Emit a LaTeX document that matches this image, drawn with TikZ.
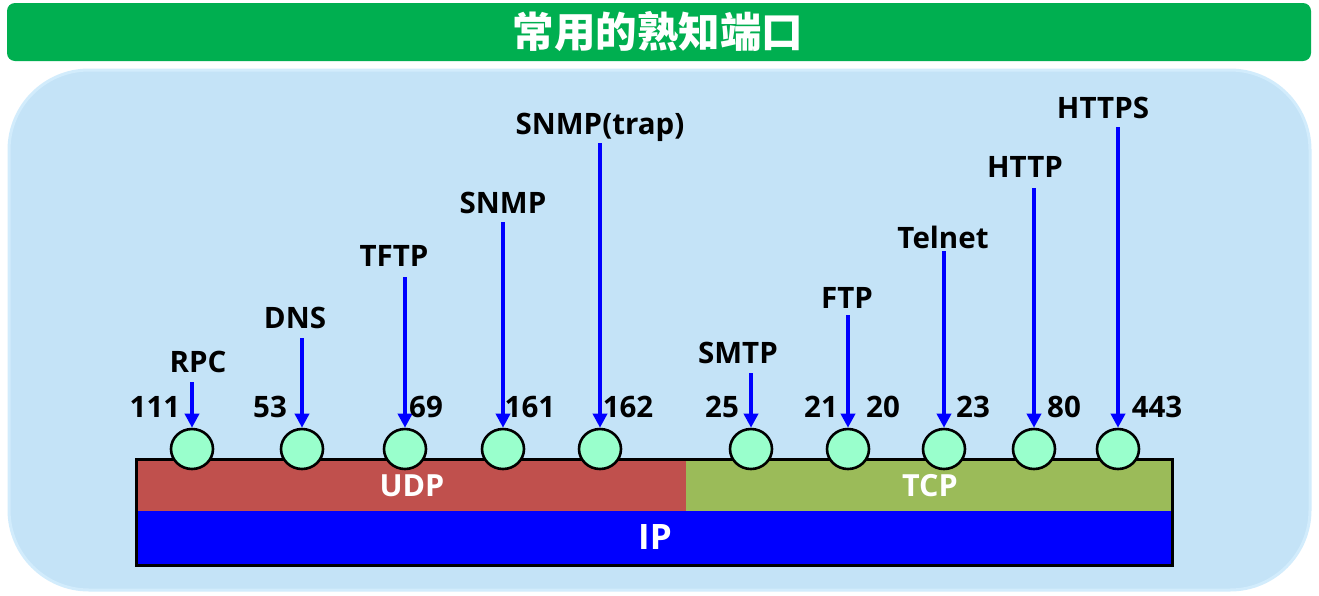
\documentclass[tikz,border=0pt]{standalone}
\usepackage{fontspec}
\setmainfont{Open Sans}
\newfontfamily\cjk{Noto Sans CJK SC}
\usetikzlibrary{arrows.meta}
\definecolor{titlegreen}{HTML}{00AF50}
\definecolor{panelblue}{HTML}{C4E3F7}
\definecolor{paneledge}{HTML}{D2ECFC}
\definecolor{udpred}{HTML}{C0504D}
\definecolor{tcpgreen}{HTML}{9BBB59}
\definecolor{ipblue}{HTML}{0000FF}
\definecolor{portmint}{HTML}{99FFCC}
\tikzset{
  lbl/.style={font=\fontsize{29.5}{32}\selectfont\bfseries, text=black, inner sep=0pt, anchor=base},
  num/.style={font=\fontsize{29.5}{32}\selectfont\bfseries, text=black, inner sep=0pt, anchor=base},
  port/.style={ellipse, draw=black, line width=2.6pt, fill=portmint, minimum width=42pt, minimum height=40pt, inner sep=0pt},
  parr/.style={draw=ipblue, line width=4pt, -{Triangle[width=14pt,length=14pt]}},
  layertxt/.style={text=white, inner sep=0pt, font=\fontsize{30.5}{33}\selectfont\bfseries}
}
\usetikzlibrary{shapes.geometric}
\begin{document}
\begin{tikzpicture}[x=1pt,y=-1pt]
\useasboundingbox (0,0) rectangle (1319,595);
\fill[white] (0,0) rectangle (1319,595);
% title bar
\node[fill=titlegreen, rounded corners=8pt, minimum width=1304pt, minimum height=58pt, inner sep=0pt] (title) at (659,32) {};
\node[text=white, inner sep=0pt, font=\cjk\fontsize{41.5}{44}\selectfont\bfseries] (titletext) at (658,32) {常用的熟知端口};
% panel
\draw[fill=panelblue, draw=paneledge, line width=3pt, rounded corners=80pt] (9,70) rectangle (1310,590);
% stack
\fill[udpred] (136,459) rectangle (686,511);
\fill[tcpgreen] (686,459) rectangle (1172,511);
\fill[ipblue] (136,511) rectangle (1172,565);
\draw[black, line width=3pt] (136,459) rectangle (1172,565);
\node[layertxt] (udp) at (412,486) {UDP};
\node[layertxt] (tcp) at (930,486) {TCP};
\node[layertxt, font=\fontsize{35}{38}\selectfont\bfseries] (ip) at (655,537) {IP};
% ports
\foreach \i/\x in {1/192,2/302,3/405,4/503,5/600,6/751,7/848,8/944,9/1034,10/1118}{
  \node[port] (c\i) at (\x,449) {};
}
% arrow starts
\coordinate (a1) at (192,382);
\coordinate (a2) at (302,338);
\coordinate (a3) at (405,277);
\coordinate (a4) at (503,222);
\coordinate (a5) at (600,143);
\coordinate (a6) at (751,373);
\coordinate (a7) at (848,315);
\coordinate (a8) at (944,251);
\coordinate (a9) at (1034,188);
\coordinate (a10) at (1118,127);
\foreach \i in {1,...,10}{
  \draw[parr] (a\i) -- (c\i.north);
}
% labels
\node[lbl] (l1) at (198,372) {RPC};
\node[lbl] (l2) at (295,328) {DNS};
\node[lbl] (l3) at (394,266) {TFTP};
\node[lbl] (l4) at (503,213) {SNMP};
\node[lbl] (l5) at (600,134) {SNMP(trap)};
\node[lbl] (l6) at (738,363) {SMTP};
\node[lbl] (l7) at (847,308) {FTP};
\node[lbl] (l8) at (943,248) {Telnet};
\node[lbl] (l9) at (1025,177) {HTTP};
\node[lbl] (l10) at (1103,118) {HTTPS};
% numbers
\node[num] (n1) at (155,417) {111};
\node[num] (n2) at (270,417) {53};
\node[num] (n3) at (426,417) {69};
\node[num] (n4) at (530,417) {161};
\node[num] (n5) at (628,417) {162};
\node[num] (n6) at (722,417) {25};
\node[num] (n7) at (821,417) {21};
\node[num] (n8) at (883,417) {20};
\node[num] (n9) at (973,417) {23};
\node[num] (n10) at (1064,417) {80};
\node[num] (n11) at (1157,417) {443};
\end{tikzpicture}
\end{document}
